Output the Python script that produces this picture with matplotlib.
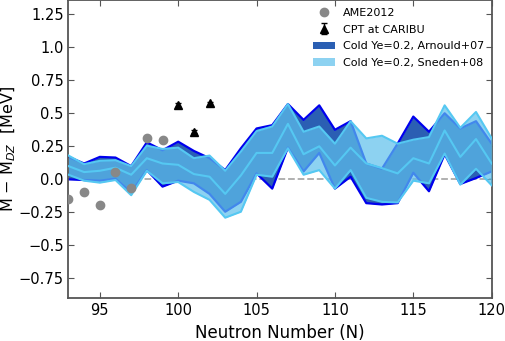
import numpy as np
import matplotlib.pyplot as plt

# neutron numbers
N = np.arange(93, 121)

# Cold Ye=0.2, Arnould+07 band
arn_up = [0.17, 0.12, 0.17, 0.165, 0.10, 0.28, 0.22, 0.285, 0.215, 0.16,
          0.07, 0.235, 0.385, 0.41, 0.57, 0.45, 0.56, 0.375, 0.44, 0.12,
          0.08, 0.27, 0.475, 0.36, 0.50, 0.385, 0.44, 0.27]
arn_lo = [0.0, -0.005, -0.01, 0.005, -0.10, 0.07, -0.055, -0.01, -0.03, -0.11,
          -0.245, -0.17, 0.045, -0.07, 0.24, 0.06, 0.20, -0.07, 0.02, -0.18,
          -0.19, -0.18, 0.05, -0.09, 0.19, -0.035, 0.01, 0.06]

# Cold Ye=0.2, Sneden+08 band
sne_up = [0.18, 0.115, 0.14, 0.145, 0.10, 0.255, 0.23, 0.24, 0.16, 0.18,
          0.065, 0.21, 0.365, 0.40, 0.57, 0.36, 0.40, 0.27, 0.44, 0.31,
          0.33, 0.27, 0.30, 0.32, 0.56, 0.39, 0.51, 0.31]
sne_mid = [0.10, 0.055, 0.065, 0.088, 0.035, 0.16, 0.12, 0.11, 0.04, 0.02,
           -0.11, 0.03, 0.20, 0.20, 0.42, 0.19, 0.25, 0.105, 0.24, 0.12,
           0.085, 0.045, 0.16, 0.12, 0.37, 0.17, 0.305, 0.12]
sne_lo = [0.035, -0.01, -0.025, -0.005, -0.12, 0.065, -0.03, -0.02, -0.095, -0.155,
          -0.29, -0.245, 0.035, 0.02, 0.235, 0.035, 0.07, -0.07, 0.07, -0.14,
          -0.17, -0.175, -0.01, -0.03, 0.195, -0.04, 0.08, -0.045]

# AME2012
ame_N = [93, 94, 95, 96, 97, 98, 99]
ame_dm = [-0.15, -0.094, -0.197, 0.058, -0.068, 0.31, 0.30]

# CPT at CARIBU
cpt_N = [100, 101, 102]
cpt_dm = [0.563, 0.36, 0.575]
cpt_err = [0.012, 0.012, 0.012]

fig = plt.figure(figsize=(5.05, 3.41), dpi=100)
ax = fig.add_axes([0.1356, 0.1252, 0.838, 0.874])

ax.axhline(0, color='#aaaaaa', ls='--', lw=1.3, zorder=1)

ax.fill_between(N, arn_lo, arn_up, color='#2b5fb3', lw=0, zorder=2,
                label='Cold Ye=0.2, Arnould+07')
ax.plot(N, arn_up, color='#0000ee', lw=1.6, zorder=2)
ax.plot(N, arn_lo, color='#0000ee', lw=1.6, zorder=2)

ax.fill_between(N, sne_lo, sne_up, color='#5ec0ec', alpha=0.71, lw=0, zorder=3,
                label='Cold Ye=0.2, Sneden+08')
for y in (sne_up, sne_mid, sne_lo):
    ax.plot(N, y, color='#55c8f2', lw=1.5, zorder=4)

ax.plot(ame_N, ame_dm, 'o', color='#888888', ms=6, zorder=5, label='AME2012')
ax.errorbar(cpt_N, cpt_dm, yerr=cpt_err, fmt='^', color='black', ms=6,
            capsize=2, lw=1, zorder=6, label='CPT at CARIBU')

ax.set_xlim(93, 120)
ax.set_ylim(-0.9, 1.355)
ax.set_xticks([95, 100, 105, 110, 115, 120])
ax.set_yticks([-0.75, -0.5, -0.25, 0.0, 0.25, 0.5, 0.75, 1.0, 1.25])
ax.set_yticklabels(['\u22120.75', '\u22120.5', '\u22120.25', '0.0', '0.25', '0.5', '0.75', '1.0', '1.25'])
ax.tick_params(direction='in', top=True, right=True, labelsize=10.5, length=4,
               color='#555555')
for s in ax.spines.values():
    s.set_color('#555555')
    s.set_linewidth(1.3)

ax.set_xlabel('Neutron Number (N)', fontsize=12)
ax.set_ylabel(r'M $-$ M$_{DZ}$  [MeV]', fontsize=11.5)
ax.yaxis.set_label_coords(-0.12, 0.5)

h, l = ax.get_legend_handles_labels()
order = [l.index('AME2012'), l.index('CPT at CARIBU'),
         l.index('Cold Ye=0.2, Arnould+07'), l.index('Cold Ye=0.2, Sneden+08')]
ax.legend([h[i] for i in order], [l[i] for i in order], loc='upper right',
          bbox_to_anchor=(1.0, 1.0), frameon=False, fontsize=8,
          borderaxespad=0.3, handlelength=2.0, labelspacing=0.6,
          handletextpad=0.7)

fig.savefig('out.png', dpi=100)
